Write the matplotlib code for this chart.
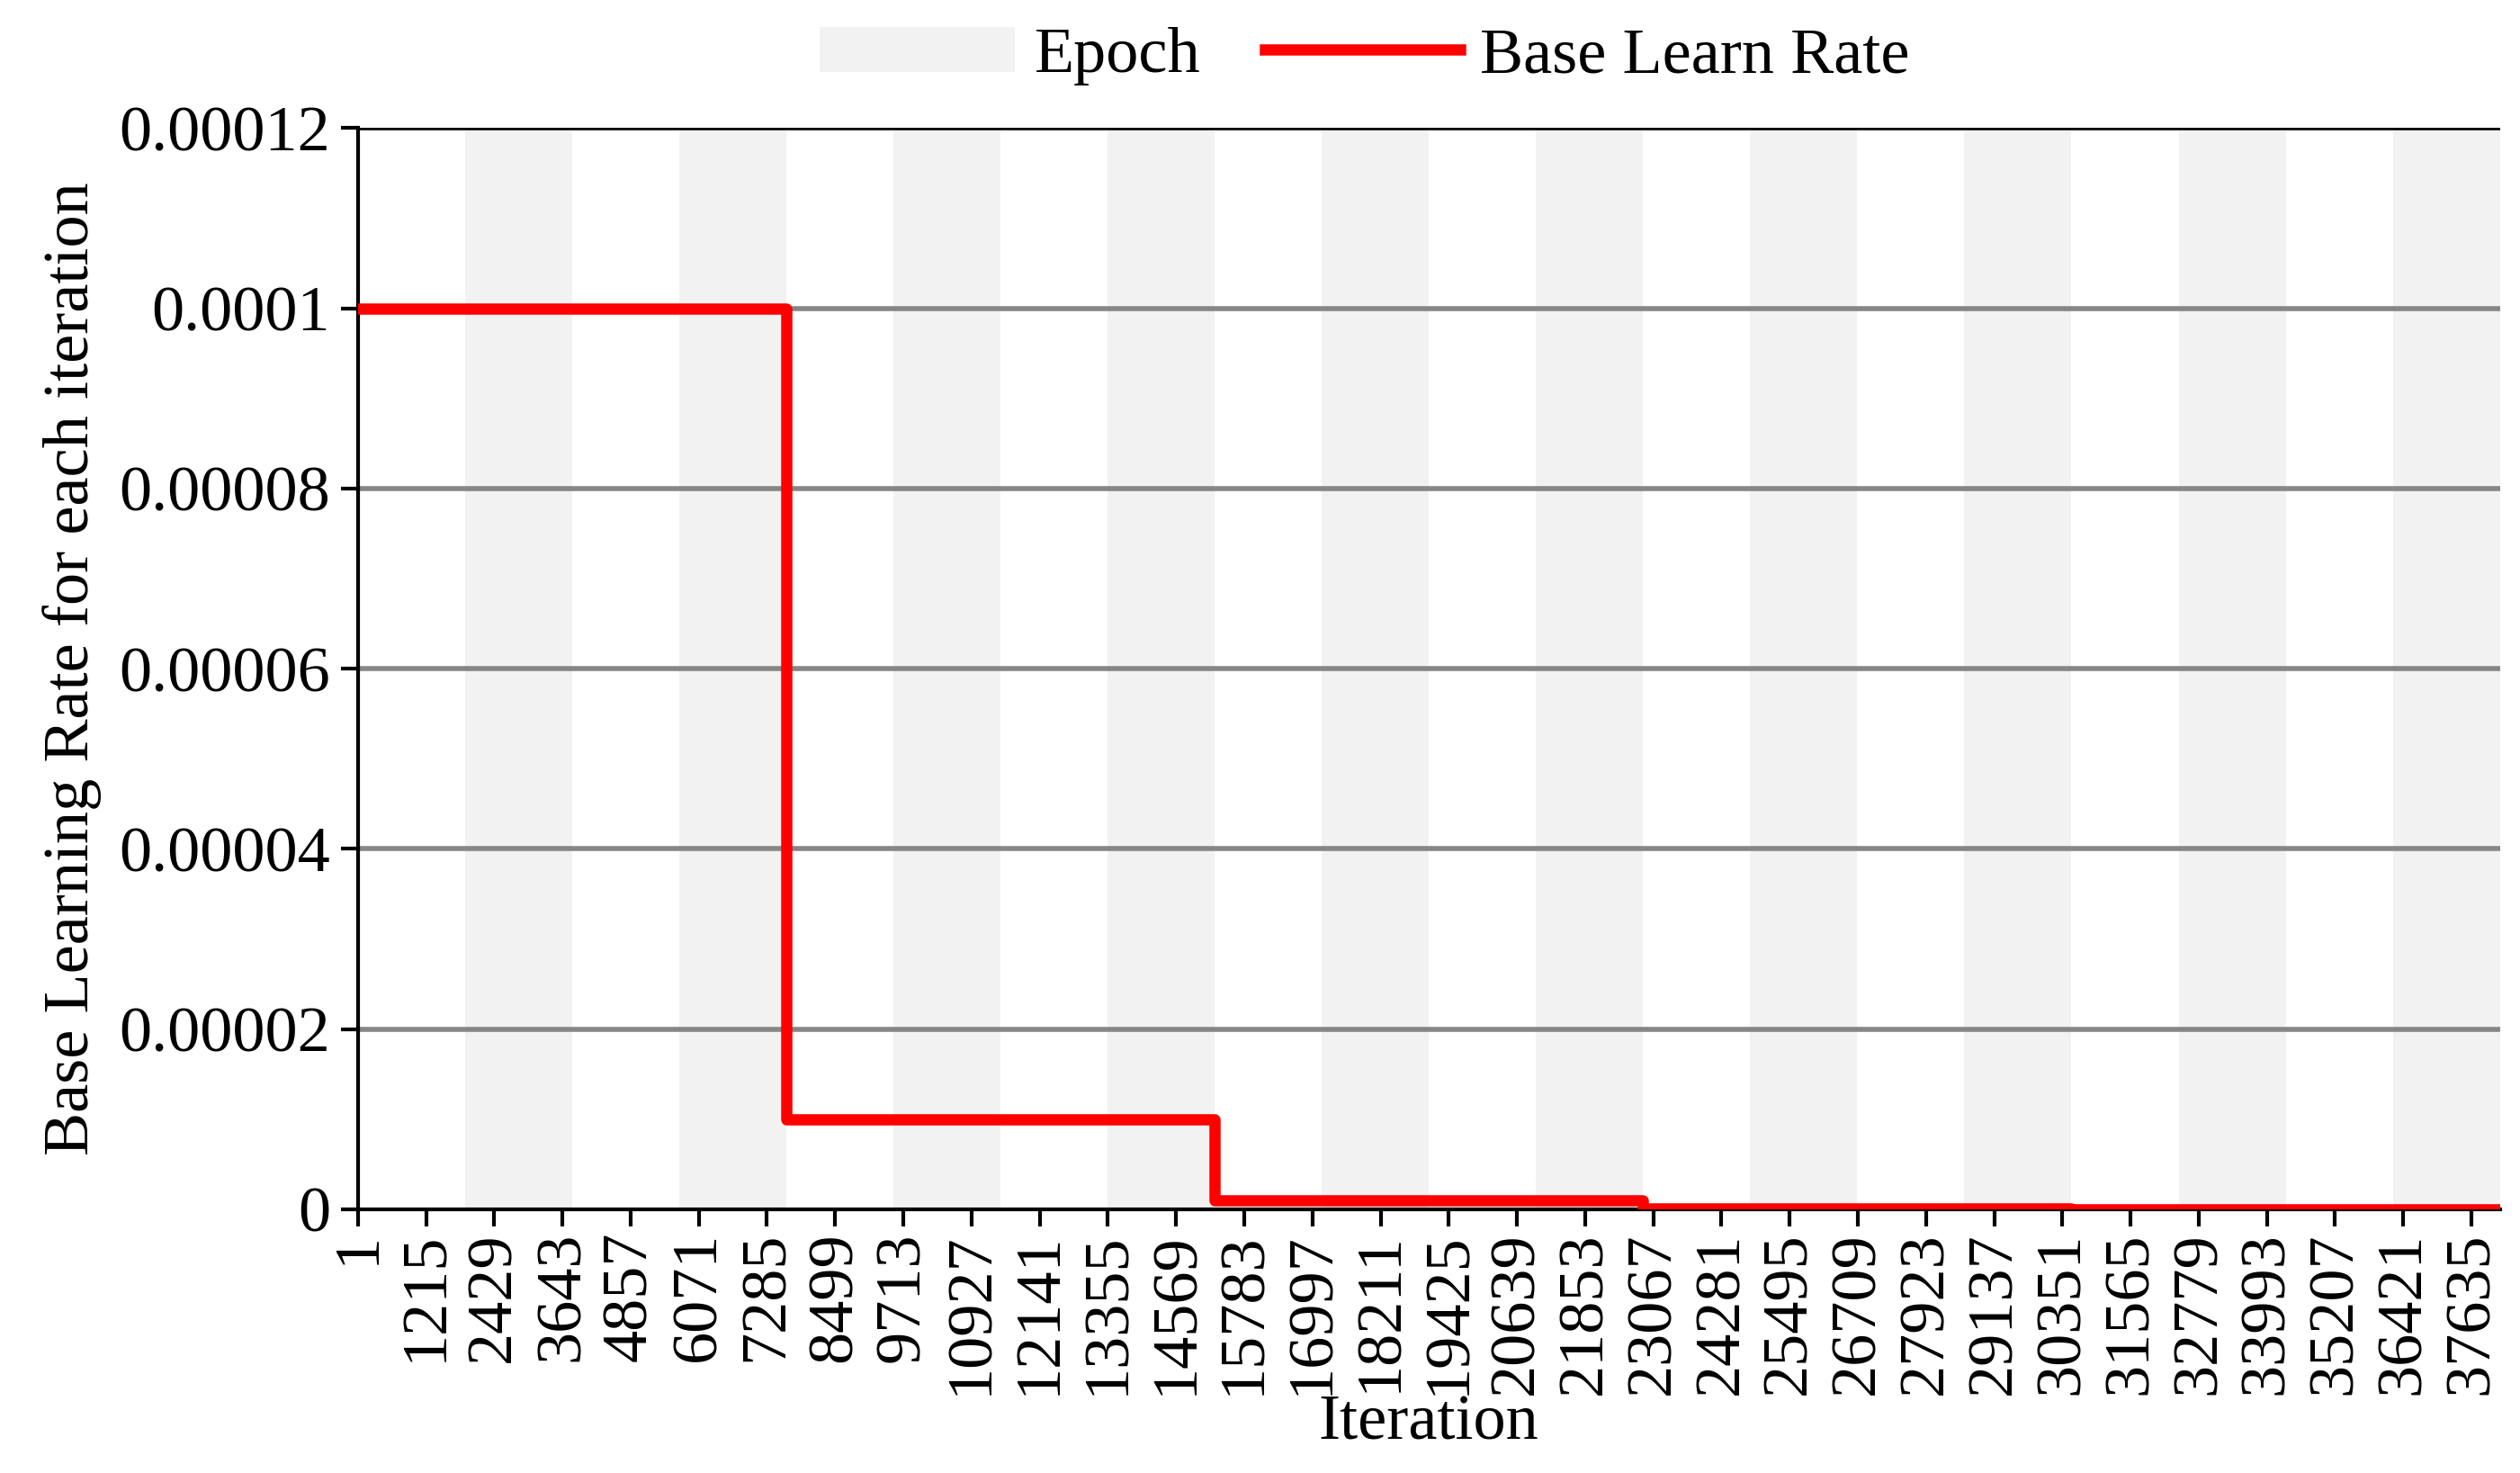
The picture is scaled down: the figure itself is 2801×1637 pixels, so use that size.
import matplotlib
matplotlib.use("Agg")
import matplotlib.pyplot as plt
import numpy as np

plt.rcParams['font.family'] = ['Liberation Serif', 'DejaVu Serif']

# Data
epoch_length = 1907
epoch_numbers = list(range(1, 21))
epoch_shaded = [0, 1] * 10
lr_change_iters = [1, 7628, 15256, 22884, 30512, 38140]
lr_values = [1e-4, 1e-5, 1e-6, 1e-7, 1e-8, 1e-8]
tick_labels = [1 + 1214 * i for i in range(32)]
y_ticks = [0, 0.00002, 0.00004, 0.00006, 0.00008, 0.0001, 0.00012]
y_labels = ["0", "0.00002", "0.00004", "0.00006", "0.00008", "0.0001", "0.00012"]

FS = 52
fig = plt.figure(figsize=(28.01, 16.37), dpi=100)
ax = fig.add_axes([0.142, 0.179, 0.850, 0.734])

xmax = lr_change_iters[-1]
h_epoch = None
for e, s in zip(epoch_numbers, epoch_shaded):
    if s:
        b = ax.bar((e - 1) * epoch_length + 1, 0.00012, width=epoch_length, align='edge',
                   color='#f2f2f2', zorder=1)
        h_epoch = b

for y in y_ticks[1:-1]:
    ax.axhline(y, color='#868686', lw=4, zorder=2)
ax.axhline(0.00012, color='black', lw=4, zorder=2)

h_lr, = ax.step(lr_change_iters, lr_values, where='post', color='#ff0000', lw=9, zorder=3)

ax.set_xlim(1, xmax)
ax.set_ylim(0, 0.00012)
ax.set_yticks(y_ticks)
ax.set_yticklabels(y_labels, fontsize=FS)
ax.set_xticks(tick_labels)
ax.set_xticklabels([str(t) for t in tick_labels], rotation=90, fontsize=FS)
ax.tick_params(axis='x', length=14, width=3, direction='out', pad=4)
ax.tick_params(axis='y', length=14, width=3, direction='out', pad=8)
for sp in ['top', 'right']:
    ax.spines[sp].set_visible(False)
ax.spines['left'].set_linewidth(3)
ax.spines['bottom'].set_linewidth(3)
ax.set_xlabel('Iteration', fontsize=FS, labelpad=0)
ax.set_ylabel('Base Learning Rate for each iteration', fontsize=FS, labelpad=14)

ax.legend([h_epoch, h_lr], ['Epoch', 'Base Learn Rate'], loc='lower center',
          bbox_to_anchor=(0.47, 0.985), ncol=2, frameon=False,
          fontsize=FS, handlelength=3, handletextpad=0.3, columnspacing=1.0)

fig.savefig('out.png', dpi=100)
